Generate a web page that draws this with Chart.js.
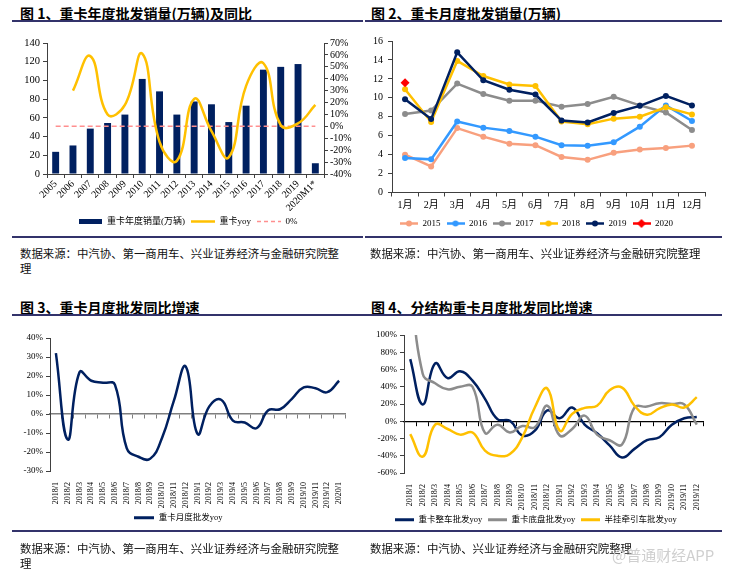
<!DOCTYPE html>
<html>
<head>
<meta charset="utf-8">
<script src="https://cdn.jsdelivr.net/npm/chart.js@4.4.1/dist/chart.umd.min.js"></script>
<style>
body{margin:0;background:#fff}
#page{position:relative;width:730px;height:575px;overflow:hidden;font-family:'Noto Sans CJK SC',sans-serif}
.title{position:absolute;font-size:14px;font-weight:700;line-height:16px;color:#000;white-space:nowrap}
.rule{position:absolute;height:2px;background:#33336b}
.src{position:absolute;font-size:11.4px;line-height:15px;color:#111;white-space:nowrap}
.wm{position:absolute;left:612px;top:544px;font-size:15px;color:#cfcfcf;white-space:nowrap}
canvas{position:absolute}
</style>
</head>
<body>
<div id="page">
  <div class="title" style="left:20px;top:5px">图 1、重卡年度批发销量(万辆)及同比</div>
  <div class="rule" style="left:12px;top:20px;width:351px"></div>
  <canvas id="c1" width="352" height="206" style="left:12px;top:30px"></canvas>
  <div class="rule" style="left:12px;top:236px;width:351px"></div>
  <div class="src" style="left:20px;top:246px">数据来源：中汽协、第一商用车、兴业证券经济与金融研究院整<br>理</div>

  <div class="title" style="left:371px;top:5px">图 2、重卡月度批发销量(万辆)</div>
  <div class="rule" style="left:365px;top:20px;width:357px"></div>
  <canvas id="c2" width="352" height="208" style="left:368px;top:30px"></canvas>
  <div class="rule" style="left:365px;top:236px;width:357px"></div>
  <div class="src" style="left:370px;top:246px">数据来源：中汽协、第一商用车、兴业证券经济与金融研究院整理</div>

  <div class="title" style="left:20px;top:299px">图 3、重卡月度批发同比增速</div>
  <div class="rule" style="left:12px;top:314px;width:353px"></div>
  <canvas id="c3" width="352" height="206" style="left:12px;top:326px"></canvas>
  <div class="rule" style="left:12px;top:530px;width:353px"></div>
  <div class="src" style="left:20px;top:541px">数据来源：中汽协、第一商用车、兴业证券经济与金融研究院整<br>理</div>

  <div class="title" style="left:371px;top:299px">图 4、分结构重卡月度批发同比增速</div>
  <div class="rule" style="left:365px;top:314px;width:357px"></div>
  <canvas id="c4" width="352" height="208" style="left:368px;top:326px"></canvas>
  <div class="rule" style="left:365px;top:530px;width:357px"></div>
  <div class="src" style="left:370px;top:541px">数据来源：中汽协、兴业证券经济与金融研究院整理</div>
  <div class="wm">@普通财经APP</div>
</div>
<script>
// 图1 年度
const years = ['2005', '2006', '2007', '2008', '2009', '2010', '2011', '2012', '2013', '2014', '2015', '2016', '2017', '2018', '2019', '2020M1*'];
const annualSales = [23.7, 30.5, 48.5, 54.5, 63.5, 101.6, 88.3, 63.5, 77.5, 74.5, 55.5, 73, 111.5, 114.5, 117.5, 11.5];
const annualYoy = [null, 30, 59, 10, 18, 61, -13, -29, 23, -4, -26, 34, 53, 1, 2.5, 18];
const zeroLine = [0, 0, 0, 0, 0, 0, 0, 0, 0, 0, 0, 0, 0, 0, 0, 0];

// 图2 月度
const months = ['1月', '2月', '3月', '4月', '5月', '6月', '7月', '8月', '9月', '10月', '11月', '12月'];
const sales2015 = [4.0, 2.75, 6.8, 5.9, 5.15, 5.0, 3.75, 3.45, 4.2, 4.55, 4.7, 4.95];
const sales2016 = [3.65, 3.5, 7.5, 6.85, 6.5, 5.9, 5.0, 4.95, 5.3, 6.95, 9.2, 7.55];
const sales2017 = [8.3, 8.65, 11.5, 10.4, 9.7, 9.7, 9.05, 9.35, 10.1, 9.2, 8.45, 6.6];
const sales2018 = [10.9, 7.45, 13.9, 12.3, 11.4, 11.25, 7.5, 7.2, 7.8, 8.0, 9.0, 8.25];
const sales2019 = [9.85, 7.75, 14.8, 11.85, 10.85, 10.35, 7.6, 7.4, 8.4, 9.15, 10.2, 9.2];
const sales2020 = [11.6];

// 图3 月度同比
const months3 = ['2018/1', '2018/2', '2018/3', '2018/4', '2018/5', '2018/6', '2018/7', '2018/8', '2018/9', '2018/10', '2018/11', '2018/12',
  '2019/1', '2019/2', '2019/3', '2019/4', '2019/5', '2019/6', '2019/7', '2019/8', '2019/9', '2019/10', '2019/11', '2019/12', '2020/1'];
const monthlyYoy = [32, -13.5, 22, 17.5, 16.5, 15.5, -18, -22.5, -23.5, -12.5, 7, 25, -10.5, 4, 7.5, -3.5, -4.5, -7.5, 2, 2.5, 8, 14, 13.5, 11.5, 17.5];

// 图4 分结构
const months4 = ['2018/1', '2018/2', '2018/3', '2018/4', '2018/5', '2018/6', '2018/7', '2018/8', '2018/9', '2018/10', '2018/11', '2018/12',
  '2019/1', '2019/2', '2019/3', '2019/4', '2019/5', '2019/6', '2019/7', '2019/8', '2019/9', '2019/10', '2019/11', '2019/12'];
const wholeYoy = [72, 19.5, 67, 50, 58, 47, 26, 2.5, 0.5, -16.5, -11, 12.5, 3.5, 16, -4, -14, -28, -42, -32, -22, -18.5, -4, 3.5, 5];
const chassisYoy = [170, 55, 44, 37, 40, 40, -13.5, -4, -13, -5.5, -7, 18, -16.5, -9, 6.5, -15.5, -22, -27, 16, 17, 21, 20, 19.5, -4];
const tractorYoy = [-15, -41, -4, -9, -15.5, -13, -34, -40, -38, -18.5, 16, 38, -11, 8.5, 15.5, 18, 36, 39, 18, 7.5, 15, 19.5, 16, 28];

const NAVY = '#002060', GOLD = '#FFC000', GREY = '#8c8c8c', BLUE = '#3399FF', SALMON = '#F8A07E', RED = '#FF0000';
const AXIS = '#404040';

Chart.defaults.animation = false;
Chart.defaults.font.family = "'Liberation Serif','Noto Sans CJK SC',serif";
Chart.defaults.color = '#000';

// legend swatches drawn onto small canvases
function mark(w, color, opt) {
  const c = document.createElement('canvas');
  c.width = w; c.height = 9;
  const g = c.getContext('2d');
  g.fillStyle = color; g.strokeStyle = color;
  if (opt.bar) { g.fillRect(0, 2, w, 5); return c; }
  g.lineWidth = opt.lw || 2.5;
  if (opt.dash) g.setLineDash(opt.dash);
  g.beginPath(); g.moveTo(0, 4.5); g.lineTo(w, 4.5); g.stroke();
  if (opt.dot) { g.beginPath(); g.arc(w / 2, 4.5, 3, 0, 7); g.fill(); }
  if (opt.diamond) { g.beginPath(); g.moveTo(w / 2, 0); g.lineTo(w / 2 + 4.5, 4.5); g.lineTo(w / 2, 9); g.lineTo(w / 2 - 4.5, 4.5); g.fill(); }
  return c;
}
function legendWith(marks) {
  return chart => Chart.defaults.plugins.legend.labels.generateLabels(chart)
    .sort((a, b) => a.datasetIndex - b.datasetIndex)
    .map((it, i) => Object.assign(it, {pointStyle: marks[i]}));
}
const fixW = w => s => { s.width = w; };
const fixH = h => s => { s.height = h; };
const tickGrid = {drawOnChartArea: false, tickLength: 4, color: AXIS};

new Chart(document.getElementById('c1'), {
  type: 'bar',
  data: {
    labels: years,
    datasets: [
      {type: 'bar', label: '重卡年度销量(万辆)', data: annualSales, yAxisID: 'y', backgroundColor: NAVY,
        barPercentage: 0.4, categoryPercentage: 1, order: 3},
      {type: 'line', label: '重卡yoy', data: annualYoy, yAxisID: 'y2', borderColor: GOLD, borderWidth: 2.5,
        tension: 0.45, pointRadius: 0, order: 1},
      {type: 'line', label: '0%', data: zeroLine, yAxisID: 'y2', borderColor: '#FF8F8F', borderWidth: 1.5,
        borderDash: [5, 3], pointRadius: 0, order: 2}
    ]
  },
  options: {
    responsive: false,
    layout: {padding: {top: 13, left: 0, right: 0, bottom: 0}},
    plugins: {
      tooltip: {enabled: false},
      legend: {position: 'bottom', labels: {usePointStyle: true, pointStyleWidth: 24, padding: 6, font: {size: 9},
        generateLabels: legendWith([mark(23, NAVY, {bar: true}), mark(24, GOLD, {}), mark(24, '#FF8F8F', {lw: 1.5, dash: [4, 3]})])}}
    },
    scales: {
      x: {offset: true, grid: Object.assign({offset: true}, tickGrid), border: {color: AXIS},
        ticks: {minRotation: 45, maxRotation: 45, autoSkip: false, padding: 0, font: {size: 10}}, afterFit: fixH(37)},
      y: {position: 'left', min: 0, max: 140, grid: tickGrid, border: {color: AXIS},
        ticks: {stepSize: 20, autoSkip: false, padding: 3, font: {size: 10.5}}, afterFit: fixW(35)},
      y2: {position: 'right', min: -40, max: 70, grid: tickGrid, border: {color: AXIS},
        ticks: {stepSize: 10, autoSkip: false, padding: 2, font: {size: 10}, callback: v => v + '%'}, afterFit: fixW(40)}
    }
  }
});

function yearLine(label, data, color, order) {
  return {label, data, borderColor: color, backgroundColor: color, borderWidth: 2.5, pointRadius: 3,
    pointBorderWidth: 0, pointBackgroundColor: color, tension: 0, order};
}
new Chart(document.getElementById('c2'), {
  type: 'line',
  data: {
    labels: months,
    datasets: [
      yearLine('2015', sales2015, SALMON, 6),
      yearLine('2016', sales2016, BLUE, 5),
      yearLine('2017', sales2017, GREY, 4),
      yearLine('2018', sales2018, GOLD, 3),
      yearLine('2019', sales2019, NAVY, 2),
      {label: '2020', data: sales2020, borderColor: RED, backgroundColor: RED, showLine: false,
        pointStyle: 'rectRot', pointRadius: 4.5, pointBorderWidth: 0, order: 1}
    ]
  },
  options: {
    responsive: false,
    layout: {padding: {top: 11, left: 0, right: 15, bottom: 0}},
    plugins: {
      tooltip: {enabled: false},
      legend: {position: 'bottom', labels: {usePointStyle: true, pointStyleWidth: 18, padding: 6, font: {size: 9},
        generateLabels: legendWith([mark(18, SALMON, {dot: true}), mark(18, BLUE, {dot: true}), mark(18, GREY, {dot: true}),
          mark(18, GOLD, {dot: true}), mark(18, NAVY, {dot: true}), mark(18, RED, {diamond: true})])}}
    },
    scales: {
      x: {offset: true, grid: Object.assign({offset: true}, tickGrid), border: {color: AXIS},
        ticks: {maxRotation: 0, autoSkip: false, padding: 3, font: {size: 10}}, afterFit: fixH(20.5)},
      y: {min: 0, max: 16, grid: tickGrid, border: {color: AXIS},
        ticks: {stepSize: 2, autoSkip: false, padding: 5, font: {size: 10}}, afterFit: fixW(24)}
    }
  }
});

function zeroAxis(color, width) {
  return {axis: 'x', type: 'category', position: {y: 0}, offset: true,
    grid: {offset: true, drawOnChartArea: false, tickLength: 4, color: color},
    border: {color: color, width: width}, ticks: {display: false}};
}
function pctAxis(min, max, step, w) {
  return {min, max, grid: tickGrid, border: {color: AXIS},
    ticks: {stepSize: step, autoSkip: false, padding: 3, font: {size: 9}, callback: v => v + '%'}, afterFit: fixW(w)};
}
const rotLabels = {offset: true, grid: {display: false}, border: {display: false},
  ticks: {minRotation: 90, maxRotation: 90, autoSkip: false, padding: 3, font: {size: 8}}};

new Chart(document.getElementById('c3'), {
  type: 'line',
  data: {
    labels: months3,
    datasets: [{label: '重卡月度批发yoy', data: monthlyYoy, borderColor: NAVY, borderWidth: 2.5, tension: 0.45, pointRadius: 0}]
  },
  options: {
    responsive: false,
    layout: {padding: {top: 12, left: 0, right: 19, bottom: 0}},
    plugins: {
      tooltip: {enabled: false},
      legend: {position: 'bottom', labels: {usePointStyle: true, pointStyleWidth: 20, padding: 5, font: {size: 8.5},
        generateLabels: legendWith([mark(20, NAVY, {lw: 3})])}}
    },
    scales: {
      x: Object.assign({afterFit: fixH(37.5)}, rotLabels),
      x2: zeroAxis('#7f7f7f', 1.5),
      y: pctAxis(-30, 40, 10, 38)
    }
  }
});

new Chart(document.getElementById('c4'), {
  type: 'line',
  data: {
    labels: months4,
    datasets: [
      {label: '重卡整车批发yoy', data: wholeYoy, borderColor: NAVY, borderWidth: 2.5, tension: 0.45, pointRadius: 0, order: 3},
      {label: '重卡底盘批发yoy', data: chassisYoy, borderColor: GREY, borderWidth: 2.5, tension: 0.45, pointRadius: 0, order: 2},
      {label: '半挂牵引车批发yoy', data: tractorYoy, borderColor: GOLD, borderWidth: 2.5, tension: 0.45, pointRadius: 0, order: 1}
    ]
  },
  options: {
    responsive: false,
    layout: {padding: {top: 9, left: 0, right: 17, bottom: 0}},
    plugins: {
      tooltip: {enabled: false},
      legend: {position: 'bottom', labels: {usePointStyle: true, pointStyleWidth: 20, padding: 5, font: {size: 8.5},
        generateLabels: legendWith([mark(19, NAVY, {lw: 3}), mark(19, GREY, {lw: 3}), mark(19, GOLD, {lw: 3})])}}
    },
    scales: {
      x: Object.assign({afterFit: fixH(37.5)}, rotLabels),
      x2: zeroAxis('#000', 1.2),
      y: pctAxis(-60, 100, 20, 36)
    }
  }
});
</script>
</body>
</html>
